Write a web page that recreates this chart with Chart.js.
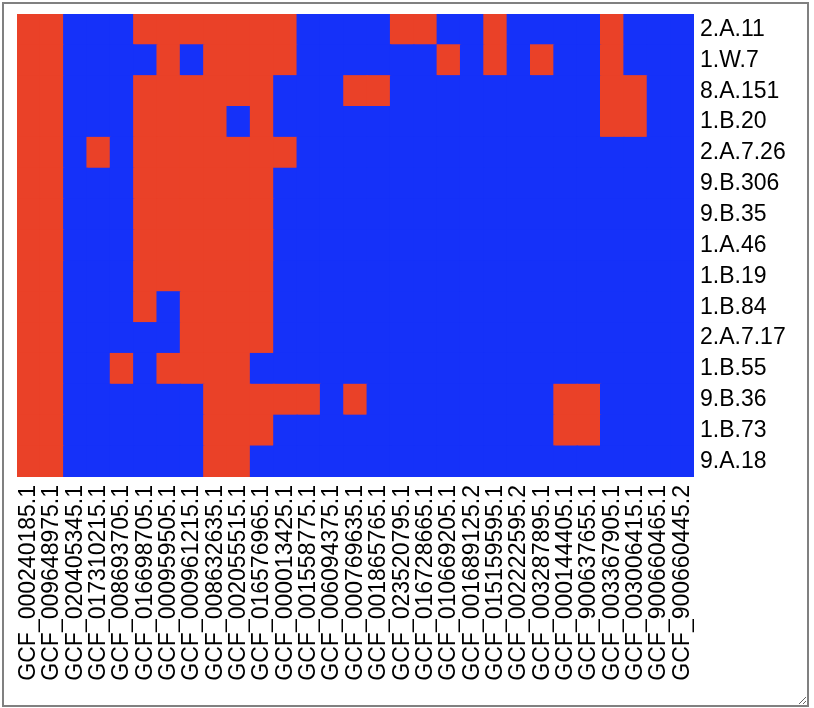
<!DOCTYPE html>
<html>
<head>
<meta charset="utf-8">
<script src="https://cdn.jsdelivr.net/npm/chart.js@4/dist/chart.umd.min.js"></script>
<style>
html,body{margin:0;padding:0;background:#fff;}
#box{position:absolute;left:2px;top:2px;width:803px;height:701px;border:2px solid #808080;resize:both;overflow:hidden;background:#fff;}
canvas{display:block;}
</style>
</head>
<body>
<div id="box"><canvas id="c" width="803" height="701"></canvas></div>
<script>
// Column categories (genomes)
const genomes = [
  'GCF_000240185.1','GCF_009648975.1','GCF_020405345.1','GCF_017310215.1','GCF_008693705.1',
  'GCF_016698705.1','GCF_000959505.1','GCF_000961215.1','GCF_008632635.1','GCF_002055515.1',
  'GCF_016576965.1','GCF_000013425.1','GCF_001558775.1','GCF_006094375.1','GCF_000769635.1',
  'GCF_001865765.1','GCF_023520795.1','GCF_016728665.1','GCF_010669205.1','GCF_001689125.2',
  'GCF_015159595.1','GCF_002222595.2','GCF_003287895.1','GCF_000144405.1','GCF_900637655.1',
  'GCF_003367905.1','GCF_003006415.1','GCF_900660465.1','GCF_900660445.2'
];
// Row categories, top to bottom
const clusters = [
  '2.A.11','1.W.7','8.A.151','1.B.20','2.A.7.26','9.B.306','9.B.35','1.A.46',
  '1.B.19','1.B.84','2.A.7.17','1.B.55','9.B.36','1.B.73','9.A.18'
];
// Presence (1 = red) / absence (0 = blue), one row per cluster, top to bottom
const presence = [
  [1,1,0,0,0,1,1,1,1,1,1,1,0,0,0,0,1,1,0,0,1,0,0,0,0,1,0,0,0],
  [1,1,0,0,0,0,1,0,1,1,1,1,0,0,0,0,0,0,1,0,1,0,1,0,0,1,0,0,0],
  [1,1,0,0,0,1,1,1,1,1,1,0,0,0,1,1,0,0,0,0,0,0,0,0,0,1,1,0,0],
  [1,1,0,0,0,1,1,1,1,0,1,0,0,0,0,0,0,0,0,0,0,0,0,0,0,1,1,0,0],
  [1,1,0,1,0,1,1,1,1,1,1,1,0,0,0,0,0,0,0,0,0,0,0,0,0,0,0,0,0],
  [1,1,0,0,0,1,1,1,1,1,1,0,0,0,0,0,0,0,0,0,0,0,0,0,0,0,0,0,0],
  [1,1,0,0,0,1,1,1,1,1,1,0,0,0,0,0,0,0,0,0,0,0,0,0,0,0,0,0,0],
  [1,1,0,0,0,1,1,1,1,1,1,0,0,0,0,0,0,0,0,0,0,0,0,0,0,0,0,0,0],
  [1,1,0,0,0,1,1,1,1,1,1,0,0,0,0,0,0,0,0,0,0,0,0,0,0,0,0,0,0],
  [1,1,0,0,0,1,0,1,1,1,1,0,0,0,0,0,0,0,0,0,0,0,0,0,0,0,0,0,0],
  [1,1,0,0,0,0,0,1,1,1,1,0,0,0,0,0,0,0,0,0,0,0,0,0,0,0,0,0,0],
  [1,1,0,0,1,0,1,1,1,1,0,0,0,0,0,0,0,0,0,0,0,0,0,0,0,0,0,0,0],
  [1,1,0,0,0,0,0,0,1,1,1,1,1,0,1,0,0,0,0,0,0,0,0,1,1,0,0,0,0],
  [1,1,0,0,0,0,0,0,1,1,1,0,0,0,0,0,0,0,0,0,0,0,0,1,1,0,0,0,0],
  [1,1,0,0,0,0,0,0,1,1,0,0,0,0,0,0,0,0,0,0,0,0,0,0,0,0,0,0,0]
];
const presentColor = '#ea4128';
const absentColor = '#1531f9';

// Build stacked datasets: bottom row first
const nRows = clusters.length;
const datasets = [];
for (let d = 0; d < nRows; d++) {
  const r = nRows - 1 - d;
  datasets.push({
    label: clusters[r],
    data: genomes.map(() => 1),
    backgroundColor: presence[r].map(v => v ? presentColor : absentColor),
    borderWidth: 0,
    inflateAmount: 0.6,
    barPercentage: 1,
    categoryPercentage: 1
  });
}

const font = { family: "'Liberation Sans', Arial, sans-serif", size: 23 };

new Chart(document.getElementById('c'), {
  type: 'bar',
  data: { labels: genomes, datasets },
  options: {
    responsive: false,
    animation: false,
    devicePixelRatio: 1,
    layout: { padding: { left: 13, top: 10, right: 0, bottom: 0 } },
    plugins: { legend: { display: false }, tooltip: { enabled: false } },
    scales: {
      x: {
        type: 'category',
        stacked: true,
        grid: { display: false, drawTicks: false },
        border: { display: false },
        ticks: {
          autoSkip: false, minRotation: 90, maxRotation: 90,
          padding: 8, color: '#000', font
        },
        afterFit: (s) => { s.height = 228; s.paddingLeft = 0; s.paddingRight = 0; }
      },
      y: {
        type: 'linear',
        position: 'right',
        stacked: true,
        min: 0, max: nRows,
        grid: { display: false, drawTicks: false },
        border: { display: false },
        afterBuildTicks: (axis) => {
          axis.ticks = clusters.map((_, i) => ({ value: i + 0.5 }));
        },
        ticks: {
          padding: 6, color: '#000', font,
          callback: (value, index) => clusters[nRows - 1 - index]
        },
        afterFit: (s) => { s.width = 113; s.paddingTop = 0; s.paddingBottom = 0; }
      }
    }
  }
});
</script>
</body>
</html>
